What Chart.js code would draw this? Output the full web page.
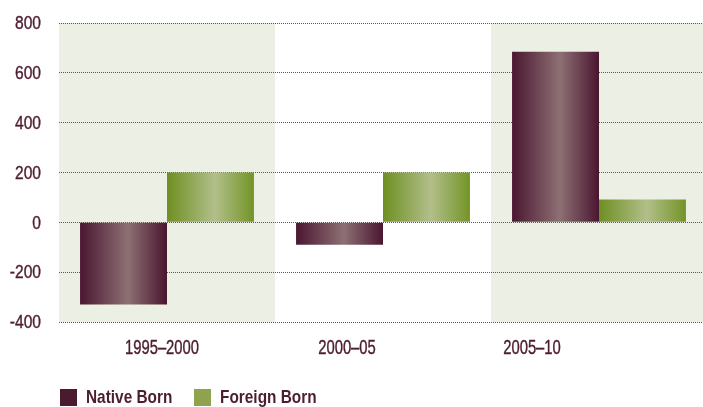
<!DOCTYPE html>
<html>
<head>
<meta charset="utf-8">
<script src="https://cdn.jsdelivr.net/npm/chart.js@4/dist/chart.umd.min.js"></script>
<style>
    body{ margin:0; background:#fff; }
    #wrap{ position:relative; width:703px; height:407px; overflow:hidden; }
    .lg-box{ position:absolute; top:389px; width:17px; height:17px; }
    .lg-text{ position:absolute; top:386px; line-height:22px; white-space:nowrap;
        font-family:'Liberation Sans',Arial,sans-serif; font-weight:bold; font-size:19px; color:#4d1d30;
        transform:scaleX(0.81); transform-origin:0 50%; }
</style>
</head>
<body>
<div id="wrap">
    <canvas id="chart" width="707" height="407"></canvas>
    <div id="legend"></div>
</div>
<script>
// data
let periods = ['1995–2000', '2000–05', '2005–10'];
let nativeBorn = [-330, -90, 685];
let foreignBorn = [200, 200, 92];
let yTicks = [-400, -200, 0, 200, 400, 600, 800];

// style
let textColor = '#4d1d30';
let fontFamily = "'Liberation Sans', Arial, sans-serif";
let bandColor = '#ecefe3';
let catPct = 0.805;
let nativeStops = ['#4a1630', '#8d7074', '#4a1630'];
let foreignStops = ['#6e8f22', '#b2bf8a', '#739426'];

function barFill(ctx, stops){
    let chart = ctx.chart;
    let x = chart.scales.x;
    if(ctx.dataIndex === undefined || !x || !chart.chartArea){
        return stops[0];
    }
    let catW = x.width / periods.length;
    let group = catW * catPct;
    let barW = group / 2;
    let left = x.getPixelForValue(ctx.dataIndex) - group / 2 + ctx.datasetIndex * barW;
    let g = chart.ctx.createLinearGradient(left, 0, left + barW, 0);
    g.addColorStop(0, stops[0]);
    g.addColorStop(0.55, stops[1]);
    g.addColorStop(1, stops[2]);
    return g;
}

// condensed text: regular font squeezed horizontally, lightly thickened
function narrowText(c, text, x, y, size, squeeze, align){
    c.save();
    c.font = size + 'px ' + fontFamily;
    c.fillStyle = textColor;
    c.strokeStyle = textColor;
    c.lineWidth = 0.4;
    c.textBaseline = 'middle';
    c.textAlign = align;
    c.translate(x, y);
    c.scale(squeeze, 1);
    c.fillText(text, 0, 0);
    c.strokeText(text, 0, 0);
    c.restore();
}

// alternate shaded category bands
let bandsPlugin = {
    id : 'bands',
    beforeDraw(chart){
        let area = chart.chartArea;
        let x = chart.scales.x;
        let catW = x.width / periods.length;
        let c = chart.ctx;
        c.save();
        c.fillStyle = bandColor;
        for(let i = 0; i < periods.length; i += 2){
            let cx = x.getPixelForValue(i);
            c.fillRect(cx - catW / 2, area.top, catW, area.bottom - area.top);
        }
        c.restore();
    }
};

// axis labels drawn in a narrow face
let labelsPlugin = {
    id : 'axisLabels',
    afterDraw(chart){
        let area = chart.chartArea;
        let y = chart.scales.y;
        let c = chart.ctx;
        yTicks.forEach(v => {
            narrowText(c, String(v), 41, y.getPixelForValue(v) + 1, 19, 0.82, 'right');
        });
        // category labels sit a little left of centre, as in the original
        for(let i = 0; i < periods.length; i++){
            narrowText(c, periods[i], area.left + 103 + i * 185, 348, 20, 0.74, 'center');
        }
    }
};

let config = {
    type : 'bar',
    data : {
        labels : periods,
        datasets : [{
            label : 'Native Born',
            data : nativeBorn,
            backgroundColor : (ctx) => barFill(ctx, nativeStops),
            borderWidth : 0
        }, {
            label : 'Foreign Born',
            data : foreignBorn,
            backgroundColor : (ctx) => barFill(ctx, foreignStops),
            borderWidth : 0
        }]
    },
    options : {
        responsive : false,
        animation : false,
        layout : {padding : {top : 23, bottom : 85, left : 0, right : 0}},
        plugins : {
            legend : {display : false},
            tooltip : {enabled : false}
        },
        datasets : {
            bar : {barPercentage : 1, categoryPercentage : catPct}
        },
        scales : {
            x : {
                display : false
            },
            y : {
                min : yTicks[0],
                max : yTicks[yTicks.length - 1],
                afterBuildTicks : (scale) => { scale.ticks = yTicks.map(v => ({value : v})); },
                afterFit : (scale) => { scale.width = 59; },
                border : {display : false, dash : [1, 1]},
                grid : {
                    color : '#6f4b5a',
                    lineWidth : 1,
                    drawTicks : false
                },
                ticks : {display : false}
            }
        }
    },
    plugins : [bandsPlugin, labelsPlugin]
};

let chart = new Chart(document.getElementById('chart').getContext('2d'), config);

// legend
let legend = document.getElementById('legend');
let legendColors = ['#4b1a2e', '#8fa34f'];
let legendBoxX = [60, 194];
chart.data.datasets.forEach((ds, i) => {
    let box = document.createElement('span');
    box.className = 'lg-box';
    box.style.left = legendBoxX[i] + 'px';
    box.style.background = legendColors[i];
    let txt = document.createElement('span');
    txt.className = 'lg-text';
    txt.style.left = (legendBoxX[i] + 26) + 'px';
    txt.textContent = ds.label;
    legend.appendChild(box);
    legend.appendChild(txt);
});
</script>
</body>
</html>
